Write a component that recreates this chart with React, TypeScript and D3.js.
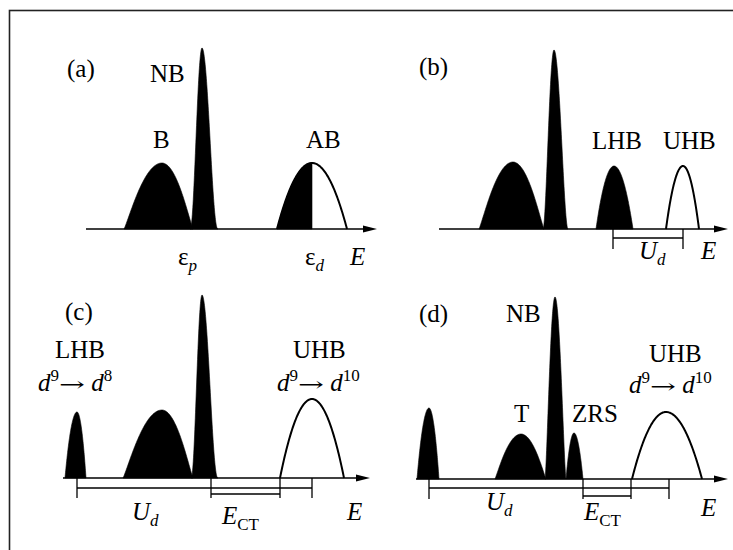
import React from "react";
import * as d3 from "d3";

// ---- Data (energy units along each panel's axis, density units above it) ----
const panelNames = ["a", "b", "c", "d"];

// peak: [name, center, leftHalfWidth, rightHalfWidth, height, exponent, kind]
// kind: "fill" | "line" | "half"
const peaksA: [string, number, number, number, number, number, string][] = [
  ["B", 76, 38, 31, 66, 1.15, "fill"],
  ["NB", 116, 12, 16, 181, 2.4, "fill"],
  ["AB", 226, 35, 35, 66, 1.0, "half"],
];
const peaksB: [string, number, number, number, number, number, string][] = [
  ["band", 74, 34, 31, 67, 1.15, "fill"],
  ["NB", 115, 11, 14, 179, 2.0, "fill"],
  ["LHB", 175, 18, 19, 63, 1.0, "fill"],
  ["UHB", 244, 17, 16, 63, 1.0, "line"],
];
const peaksC: [string, number, number, number, number, number, string][] = [
  ["LHB", 14, 12, 9, 66, 1.0, "fill"],
  ["band", 99, 39, 31, 68, 1.15, "fill"],
  ["NB", 139, 11, 16, 183, 2.4, "fill"],
  ["UHB", 249, 32, 32, 79, 1.0, "line"],
];
const peaksD: [string, number, number, number, number, number, string][] = [
  ["LHB", 13, 12, 10, 71, 1.0, "fill"],
  ["T", 105, 26, 25, 45, 1.1, "fill"],
  ["NB", 139, 10, 11, 182, 1.5, "fill"],
  ["ZRS", 158, 8, 9, 46, 1.0, "fill"],
  ["UHB", 250, 34, 36, 67, 1.0, "line"],
];

// brackets: [from, to, level]  level 1 = upper line, 2 = lower line
const bracketsA: [number, number, number][] = [];
const bracketsB: [number, number, number][] = [[174, 244, 1]];
const bracketsC: [number, number, number][] = [
  [14, 249, 1],
  [148, 217, 2],
];
const bracketsD: [number, number, number][] = [
  [13, 253, 1],
  [167, 215, 2],
];

// label segments: t = text, i = italic, s = "sub" | "sup" | "arrow" | ""
type Seg = { t: string; i?: boolean; s?: string };
// labels: [energy, density, segments]
const labelsA: [number, number, Seg[]][] = [
  [-19, 152, [{ t: "(a)" }]],
  [64, 147, [{ t: "NB" }]],
  [67, 81, [{ t: "B" }]],
  [220, 81, [{ t: "AB" }]],
  [92, -36, [{ t: "ε" }, { t: "p", i: true, s: "sub" }]],
  [219, -36, [{ t: "ε" }, { t: "d", i: true, s: "sub" }]],
  [264, -36, [{ t: "E", i: true }]],
];
const labelsB: [number, number, Seg[]][] = [
  [-20, 154, [{ t: "(b)" }]],
  [153, 80, [{ t: "LHB" }]],
  [224, 80, [{ t: "UHB" }]],
  [200, -30, [{ t: "U", i: true }, { t: "d", i: true, s: "sub" }]],
  [262, -30, [{ t: "E", i: true }]],
];
const labelsC: [number, number, Seg[]][] = [
  [2, 158, [{ t: "(c)" }]],
  [-8, 120, [{ t: "LHB" }]],
  [-25, 87, [{ t: "d", i: true }, { t: "9", s: "sup" }, { t: "→", s: "arrow" }, { t: " d", i: true }, { t: "8", s: "sup" }]],
  [230, 120, [{ t: "UHB" }]],
  [214, 87, [{ t: "d", i: true }, { t: "9", s: "sup" }, { t: "→", s: "arrow" }, { t: " d", i: true }, { t: "10", s: "sup" }]],
  [69, -42, [{ t: "U", i: true }, { t: "d", i: true, s: "sub" }]],
  [159, -46, [{ t: "E", i: true }, { t: "CT", s: "sub" }]],
  [284, -42, [{ t: "E", i: true }]],
];
const labelsD: [number, number, Seg[]][] = [
  [3, 157, [{ t: "(d)" }]],
  [90, 157, [{ t: "NB" }]],
  [98, 57, [{ t: "T" }]],
  [156, 57, [{ t: "ZRS" }]],
  [233, 117, [{ t: "UHB" }]],
  [213, 86, [{ t: "d", i: true }, { t: "9", s: "sup" }, { t: "→", s: "arrow" }, { t: " d", i: true }, { t: "10", s: "sup" }]],
  [70, -31, [{ t: "U", i: true }, { t: "d", i: true, s: "sub" }]],
  [168, -41, [{ t: "E", i: true }, { t: "CT", s: "sub" }]],
  [285, -37, [{ t: "E", i: true }]],
];

// ---- Layout ----
const W = 733;
const H = 550;
const FONT = "'Liberation Serif', 'Times New Roman', Times, serif";
const FS = 25;

const layout: Record<string, { x0: number; len: number; y0: number }> = {
  a: { x0: 86, len: 291, y0: 229 },
  b: { x0: 439, len: 289, y0: 229 },
  c: { x0: 63, len: 307, y0: 478 },
  d: { x0: 416, len: 312, y0: 479 },
};
const peaksBy: Record<string, typeof peaksA> = { a: peaksA, b: peaksB, c: peaksC, d: peaksD };
const bracketsBy: Record<string, typeof bracketsB> = { a: bracketsA, b: bracketsB, c: bracketsC, d: bracketsD };
const labelsBy: Record<string, typeof labelsA> = { a: labelsA, b: labelsB, c: labelsC, d: labelsD };

function profile(c: number, L: number, R: number, h: number, p: number, from: number, to: number) {
  const n = 120;
  const pts: [number, number][] = [];
  for (let k = 0; k <= n; k++) {
    const e = from + ((to - from) * k) / n;
    const u = e < c ? (e - c) / L : (e - c) / R;
    const v = Math.abs(u) >= 1 ? 0 : h * Math.pow(1 - u * u, p);
    pts.push([e, v]);
  }
  return pts;
}

function RichText({ x, y, segs }: { x: number; y: number; segs: Seg[] }) {
  let shift = 0;
  return (
    <text x={x} y={y} fontFamily={FONT} fontSize={FS} fill="#000">
      {segs.map((s, k) => {
        const target = s.s === "sub" ? 6 : s.s === "sup" ? -10 : 0;
        const dy = target - shift;
        shift = target;
        const fs = s.s === "sub" || s.s === "sup" ? 17 : FS;
        const extra: any = {};
        if (s.s === "arrow") {
          extra.textLength = 26;
          extra.lengthAdjust = "spacingAndGlyphs";
          extra.fontFamily = "'DejaVu Serif', serif";
          extra.fontSize = 20;
        }
        return (
          <tspan key={k} dy={dy} fontSize={fs} fontStyle={s.i ? "italic" : "normal"} {...extra}>
            {s.t}
          </tspan>
        );
      })}
    </text>
  );
}

function Panel({ id }: { id: string }) {
  const { x0, len, y0 } = layout[id];
  const x = d3.scaleLinear().domain([0, len]).range([x0, x0 + len]);
  const y = d3.scaleLinear().domain([0, 200]).range([y0, y0 - 200]);
  const area = d3
    .area<[number, number]>()
    .x((d) => x(d[0]))
    .y0(y(0))
    .y1((d) => y(d[1]));
  const line = d3
    .line<[number, number]>()
    .x((d) => x(d[0]))
    .y((d) => y(d[1]));

  const peaks = peaksBy[id];
  const brackets = bracketsBy[id];
  const labels = labelsBy[id];
  const tip = x(len);
  const tickSet = new Set<number>();
  brackets.forEach((b) => {
    tickSet.add(b[0]);
    tickSet.add(b[1]);
  });

  return (
    <g>
      {peaks.map((pk, k) => {
        const [, c, L, R, h, p, kind] = pk;
        const full = profile(c, L, R, h, p, c - L, c + R);
        if (kind === "fill") {
          return <path key={k} d={area(full) || ""} fill="#000" stroke="#000" strokeWidth={0.6} />;
        }
        if (kind === "half") {
          const left = profile(c, L, R, h, p, c - L, c);
          return (
            <g key={k}>
              <path d={area(left) || ""} fill="#000" stroke="#000" strokeWidth={0.6} />
              <path d={line(full) || ""} fill="none" stroke="#000" strokeWidth={2} />
            </g>
          );
        }
        return <path key={k} d={line(full) || ""} fill="none" stroke="#000" strokeWidth={2} />;
      })}
      <line x1={x(0)} x2={tip - 10} y1={y0} y2={y0} stroke="#000" strokeWidth={1.3} />
      <path d={`M${tip},${y0} L${tip - 14},${y0 - 3.5} L${tip - 14},${y0 + 3.5} Z`} fill="#000" />
      {Array.from(tickSet).map((e, k) => (
        <line key={"t" + k} x1={x(e)} x2={x(e)} y1={y0} y2={y0 + 20} stroke="#000" strokeWidth={1.3} />
      ))}
      {brackets.map((b, k) => {
        const yy = y0 + (b[2] === 1 ? (id === "c" ? 10 : 9) : id === "c" ? 16 : 17);
        return <line key={"b" + k} x1={x(b[0])} x2={x(b[1])} y1={yy} y2={yy} stroke="#000" strokeWidth={1.3} />;
      })}
      {labels.map((l, k) => (
        <RichText key={"l" + k} x={x(l[0])} y={y(l[1])} segs={l[2]} />
      ))}
    </g>
  );
}

export default function App() {
  return (
    <svg
      width={W}
      height={H}
      viewBox={`0 0 ${W} ${H}`}
      style={{ position: "absolute", left: 0, top: 0, background: "#fff" }}
    >
      <rect x={0} y={0} width={W} height={H} fill="#fff" />
      <rect x={9.5} y={10.5} width={W + 10} height={H + 10} fill="none" stroke="#222" strokeWidth={1.6} />
      {panelNames.map((id) => (
        <Panel key={id} id={id} />
      ))}
    </svg>
  );
}
